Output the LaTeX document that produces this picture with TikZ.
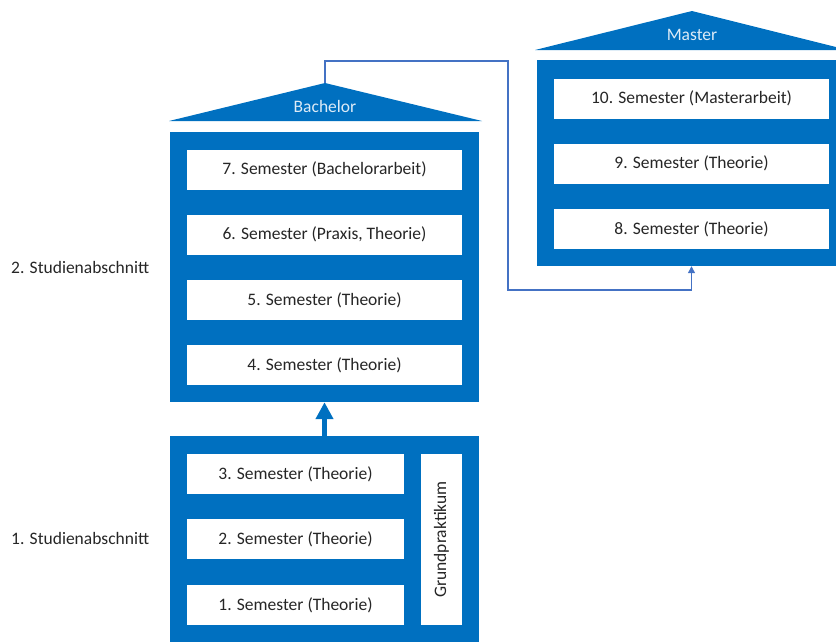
\documentclass[tikz,border=0pt]{standalone}
\usepackage{fontspec}
\setmainfont{Carlito}
\usetikzlibrary{arrows.meta}
\definecolor{mblue}{HTML}{0070C0}
\definecolor{lblue}{HTML}{4472C4}
\definecolor{rooftext}{HTML}{DDEBF7}
\definecolor{txt}{HTML}{262626}
\newcommand{\dfont}{\fontsize{17.5}{20}\selectfont}
\tikzset{
  frame/.style={rectangle, fill=mblue, draw=none, inner sep=0pt, minimum width=309pt},
  sembox/.style={rectangle, fill=white, draw=none, inner sep=0pt, minimum width=275pt, minimum height=40pt, text=txt, font=\dfont},
  lowbox/.style={sembox, minimum width=217pt},
  roof/.style={fill=mblue, draw=none},
  rooflabel/.style={text=rooftext, inner sep=0pt, font=\dfont},
  sidelabel/.style={anchor=west, inner sep=0pt, text=txt, font=\dfont},
  conn/.style={draw=lblue, line width=1.2pt, -{Triangle[width=7pt,length=7pt]}},
  bigarrow/.style={draw=mblue, line width=5pt, -{Triangle[width=17pt,length=17pt]}}
}
\begin{document}
\begin{tikzpicture}[x=1pt,y=-1pt]
\useasboundingbox (0,0) rectangle (836,641);
\clip (0,0) rectangle (836,641);
% Bachelor
\fill[roof] (169,121) -- (325,83) -- (482,121) -- cycle;
\coordinate (bapex) at (325,83);
\node[rooflabel] (blabel) at (325,106) {Bachelor};
\node[frame, minimum height=270pt] (bach) at (324.5,267) {};
\node[sembox] (s7) at (324.5,169.5) {7. Semester (Bachelorarbeit)};
\node[sembox] (s6) at (324.5,234.5) {6. Semester (Praxis, Theorie)};
\node[sembox] (s5) at (324.5,300) {5. Semester (Theorie)};
\node[sembox] (s4) at (324.5,365) {4. Semester (Theorie)};
% Lower block
\node[frame, minimum height=207pt] (low) at (324.5,539.5) {};
\node[lowbox] (s3) at (295.5,474) {3. Semester (Theorie)};
\node[lowbox] (s2) at (295.5,539) {2. Semester (Theorie)};
\node[lowbox] (s1) at (295.5,605) {1. Semester (Theorie)};
\node[sembox, minimum width=41pt, minimum height=171pt] (gp) at (441.5,539.5) {};
\node[rotate=90, text=txt, inner sep=0pt, font=\dfont] (gptext) at (gp.center) {Grundpraktikum};
% Master
\fill[roof] (535,50) -- (692,11) -- (848,50) -- cycle;
\node[rooflabel] (mlabel) at (692,35) {Master};
\node[frame, minimum height=206pt] (master) at (691.5,163) {};
\node[sembox] (s10) at (691.5,98.5) {10. Semester (Masterarbeit)};
\node[sembox] (s9) at (691.5,163.5) {9. Semester (Theorie)};
\node[sembox] (s8) at (691.5,229) {8. Semester (Theorie)};
% Side labels
\node[sidelabel] (l2) at (11,267) {2. Studienabschnitt};
\node[sidelabel] (l1) at (11,538) {1. Studienabschnitt};
% Connectors
\draw[bigarrow] (low.north) -- (bach.south);
\draw[conn] (bapex) -- ++(0,-22) -| (508,290) -| (master.south);
\end{tikzpicture}
\end{document}
